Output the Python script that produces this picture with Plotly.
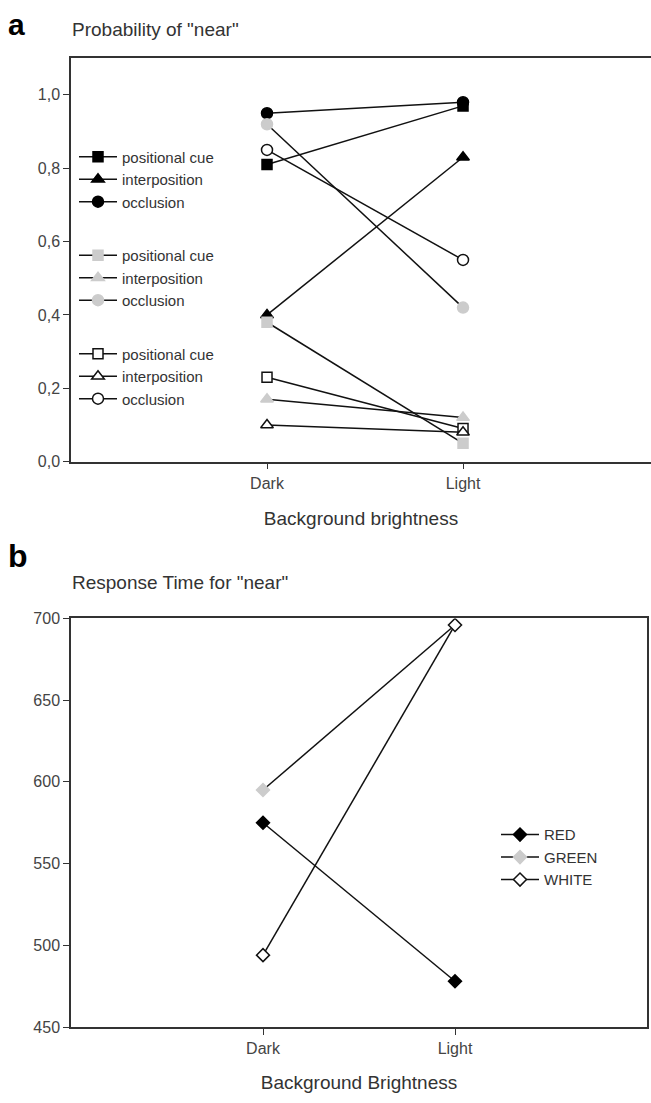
import plotly.graph_objects as go

# ---------------- data ----------------
categories = ["Dark", "Light"]

# panel a: probability of "near"
pos_black = [0.81, 0.97]
int_black = [0.40, 0.83]
occ_black = [0.95, 0.98]
pos_gray = [0.38, 0.05]
int_gray = [0.17, 0.12]
occ_gray = [0.92, 0.42]
pos_white = [0.23, 0.09]
int_white = [0.10, 0.08]
occ_white = [0.85, 0.55]

a_names = ["positional cue", "interposition", "occlusion"]

# panel b: response time for "near"
rt_red = [575, 478]
rt_green = [595, 696]
rt_white = [494, 696]
b_names = ["RED", "GREEN", "WHITE"]

a_yticks = [0.0, 0.2, 0.4, 0.6, 0.8, 1.0]
a_yticktext = ["0,0", "0,2", "0,4", "0,6", "0,8", "1,0"]
b_yticks = [450, 500, 550, 600, 650, 700]

# ---------------- style ----------------
W, H = 651, 1103
FONT = "Liberation Sans, Arial, sans-serif"
LINE = "#111111"
GRAY = "#cccccc"
AX = "#333333"
TXT = "#333333"

fig = go.Figure()

groups = [
    ("g1", [pos_black, int_black, occ_black], "black", "black"),
    ("g2", [pos_gray, int_gray, occ_gray], GRAY, GRAY),
    ("g3", [pos_white, int_white, occ_white], "white", LINE),
]
symbols = ["square", "triangle-up", "circle"]
sizes = [10, 11, 11]

for gname, series, fill, edge in groups:
    for vals, nm, sym, sz in zip(series, a_names, symbols, sizes):
        fig.add_trace(go.Scatter(
            x=categories, y=vals, name=nm, legendgroup=gname,
            mode="lines+markers", xaxis="x", yaxis="y", legend="legend",
            line=dict(color=LINE, width=1.5),
            marker=dict(symbol=sym, size=sz, color=fill,
                        line=dict(color=edge, width=1.5)),
        ))

for vals, nm, fill, edge in zip([rt_red, rt_green, rt_white], b_names,
                                ["black", GRAY, "white"], ["black", GRAY, LINE]):
    fig.add_trace(go.Scatter(
        x=categories, y=vals, name=nm,
        mode="lines+markers", xaxis="x2", yaxis="y2", legend="legend2",
        line=dict(color=LINE, width=1.5),
        marker=dict(symbol="diamond", size=10, color=fill,
                    line=dict(color=edge, width=1.5)),
    ))

def py(px):
    return 1 - px / H

def pxx(px):
    return px / W

axis_common = dict(showgrid=False, zeroline=False, showline=True,
                   linecolor=AX, linewidth=1.5, ticks="outside",
                   tickcolor=AX, tickwidth=1.2, ticklen=6,
                   tickfont=dict(family=FONT, size=16, color="#444444"))

fig.update_layout(
    width=W, height=H,
    margin=dict(l=0, r=0, t=0, b=0),
    paper_bgcolor="white", plot_bgcolor="white",
    font=dict(family=FONT, color=TXT),
    xaxis=dict(domain=[pxx(71), 1.0], anchor="y", type="category",
               range=[-1, 1.959], mirror=True,
               title=dict(text="Background brightness",
                          font=dict(family=FONT, size=19, color=TXT),
                          standoff=21),
               **axis_common),
    yaxis=dict(domain=[py(460.7), py(51)], anchor="x",
               range=[0, 1.1], tickvals=a_yticks, ticktext=a_yticktext,
               **axis_common),
    xaxis2=dict(domain=[pxx(71), pxx(647)], anchor="y2", type="category",
                range=[-1, 2], mirror=True,
                title=dict(text="Background Brightness",
                           font=dict(family=FONT, size=19, color=TXT),
                           standoff=20),
                **axis_common),
    yaxis2=dict(domain=[py(1035), py(620)], anchor="x2",
                range=[450, 700], tickvals=b_yticks, mirror=True,
                **axis_common),
    legend=dict(x=pxx(74), y=py(134.5), xanchor="left", yanchor="top",
                traceorder="grouped", tracegroupgap=31,
                bgcolor="rgba(0,0,0,0)", borderwidth=0,
                font=dict(family=FONT, size=15, color=TXT),
                itemwidth=38),
    legend2=dict(x=pxx(496), y=py(823), xanchor="left", yanchor="top",
                 bgcolor="rgba(0,0,0,0)", borderwidth=0,
                 font=dict(family=FONT, size=15, color=TXT),
                 itemwidth=38),
    showlegend=True,
    annotations=[
        dict(text="<b>a</b>", x=pxx(6), y=py(17), xref="paper", yref="paper",
             xanchor="left", yanchor="middle", showarrow=False,
             font=dict(family=FONT, size=30, color="black")),
        dict(text='Probability of "near"', x=pxx(70), y=py(21.5),
             xref="paper", yref="paper", xanchor="left", yanchor="middle",
             showarrow=False, font=dict(family=FONT, size=19, color=TXT)),
        dict(text="<b>b</b>", x=pxx(6), y=py(557), xref="paper", yref="paper",
             xanchor="left", yanchor="middle", showarrow=False,
             font=dict(family=FONT, size=32, color="black")),
        dict(text='Response Time for "near"', x=pxx(70), y=py(583),
             xref="paper", yref="paper", xanchor="left", yanchor="middle",
             showarrow=False, font=dict(family=FONT, size=19, color=TXT)),
    ],
)

fig.write_html("out.html",
               config={"displayModeBar": False},
               post_script="document.body.style.margin='0';"
                           "document.body.style.overflow='hidden';")
